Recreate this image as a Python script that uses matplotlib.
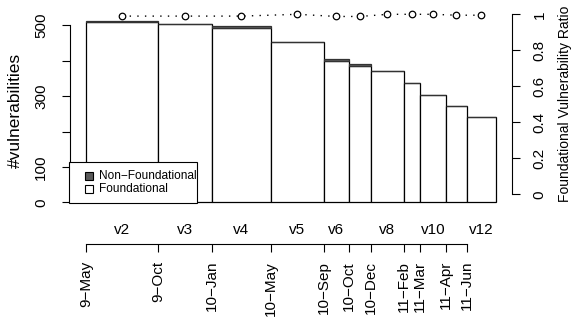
import numpy as np
import matplotlib.pyplot as plt
from matplotlib.patches import Rectangle
from matplotlib.transforms import blended_transform_factory

plt.rcParams['font.family'] = ['Liberation Sans', 'DejaVu Sans']

# data
versions = ["v2", "v3", "v4", "v5", "v6", "", "v8", "", "v10", "", "v12"]
dates = ["9\u2212May", "9\u2212Oct", "10\u2212Jan", "10\u2212May", "10\u2212Sep", "10\u2212Oct",
         "10\u2212Dec", "11\u2212Feb", "11\u2212Mar", "11\u2212Apr", "11\u2212Jun"]
widths = [72, 54, 59, 53, 25, 22, 33, 16, 26, 21, 29]
foundational = [508, 503, 493, 454, 399, 386, 372, 337, 304, 271, 241]
non_foundational = [3, 1, 4, 0, 6, 5, 0, 0, 0, 0, 0]
ratio = [0.99, 0.99, 0.99, 1.0, 0.988, 0.988, 1.0, 1.0, 1.0, 0.995, 0.995]
legend_labels = ["Non\u2212Foundational", "Foundational"]
legend_colors = ['#5a5a5a', 'white']

W, H = 581, 327
fig = plt.figure(figsize=(W / 100, H / 100), dpi=100)
ax = fig.add_axes([69.6 / W, 1 - 210 / H, (512.4 - 69.6) / W, 196 / H])

lefts = np.concatenate([[0], np.cumsum(widths)[:-1]])
centers = lefts + np.array(widths) / 2
total = sum(widths)

ax.bar(lefts, foundational, width=widths, align='edge', color='white',
       edgecolor='black', linewidth=0.9)
ax.bar(lefts, non_foundational, width=widths, bottom=foundational, align='edge',
       color=legend_colors[0], edgecolor='#333333', linewidth=0.9)

ax.set_xlim(-0.04 * total, 1.04 * total)
ax.set_ylim(-21.2, 531.9)

for s in ['top', 'right']:
    ax.spines[s].set_visible(False)
ax.spines['left'].set_bounds(0, 500)
ax.spines['bottom'].set_position(('outward', 24.7))
ax.spines['bottom'].set_bounds(lefts[0], lefts[-1])

ax.set_yticks([0, 100, 200, 300, 400, 500])
ax.set_yticklabels(["0", "100", "", "300", "", "500"])
ax.tick_params(axis='y', length=6, width=0.8, pad=9.5, labelsize=11, labelrotation=90)
for lab in ax.get_yticklabels():
    lab.set_va('center')

ax.set_xticks(lefts)
ax.set_xticklabels(dates, rotation=90, va='top', ha='center')
ax.tick_params(axis='x', length=6, width=0.8, pad=6, labelsize=11)

trans = blended_transform_factory(ax.transData, fig.transFigure)
for c, v in zip(centers, versions):
    ax.text(c, 1 - 230 / H, v, ha='center', va='center', fontsize=11, transform=trans)

ax2 = ax.twinx()
ax2.set_ylim(-0.0872, 1.0017)
for s in ['top', 'left', 'bottom']:
    ax2.spines[s].set_visible(False)
ax2.spines['right'].set_bounds(0, 1)
ax2.plot(centers, ratio, linestyle=(0, (1, 4.5)), color='black', linewidth=1,
         marker='o', markersize=4.7, markerfacecolor='white', markeredgecolor='black',
         markeredgewidth=0.9, clip_on=False)
ax2.set_yticks([0, 0.2, 0.4, 0.6, 0.8, 1])
ax2.set_yticklabels(["0", "0.2", "0.4", "0.6", "0.8", "1"])
ax2.tick_params(axis='y', length=6, width=0.8, pad=8.5, labelsize=11, labelrotation=90)
for lab in ax2.get_yticklabels():
    lab.set_va('center')

fig.text(15 / W, 1 - 110 / H, "#vulnerabilities", rotation=90, ha='center', va='center', fontsize=12.5)
fig.text(565 / W, 1 - 104 / H, "Foundational Vulnerability Ratio", rotation=90,
         ha='center', va='center', fontsize=10)

# legend box drawn R-style in figure pixels
def px(x, y):
    return x / W, 1 - y / H

fig.patches.append(Rectangle(px(69.3, 203.3), 127.4 / W, 41 / H, transform=fig.transFigure,
                             facecolor='white', edgecolor='black', linewidth=0.8, zorder=5))
for yc, lab, col in zip([176, 188.5], legend_labels, legend_colors):
    fig.patches.append(Rectangle(px(85, yc + 4), 8 / W, 8 / H, transform=fig.transFigure,
                                 facecolor=col, edgecolor='black', linewidth=0.8, zorder=6))
    fig.text(99 / W, 1 - yc / H, lab, ha='left', va='center', fontsize=8.6, zorder=6)

fig.savefig("out.png", dpi=100)
